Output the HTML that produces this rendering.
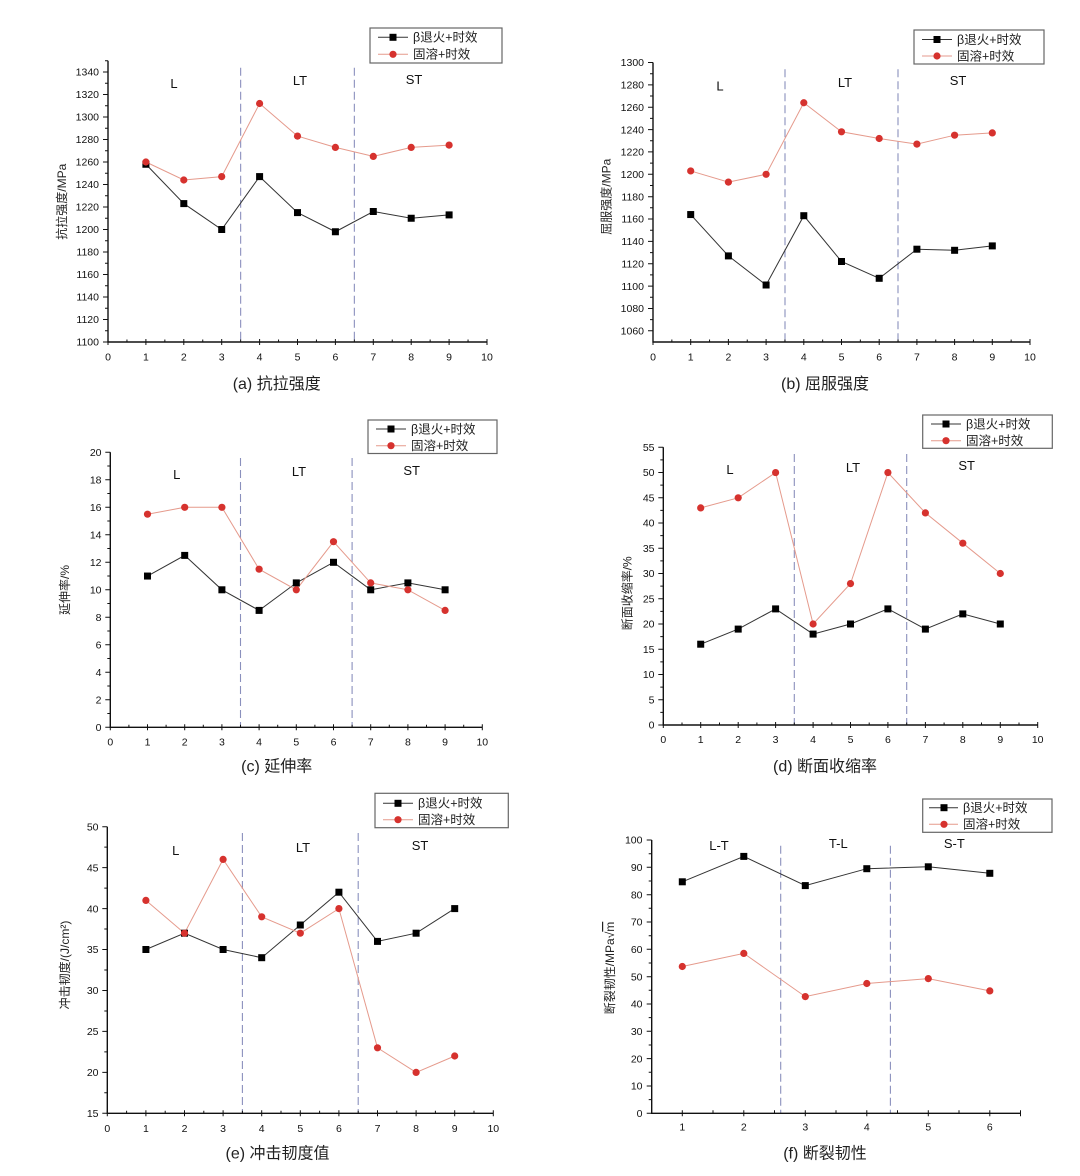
<!DOCTYPE html>
<html><head><meta charset="utf-8"><style>
html,body{margin:0;padding:0;background:#fff}
svg{display:block}
.t{font:10.5px "Liberation Sans",sans-serif;fill:#111}
.yl{text-anchor:end}
.xl{text-anchor:middle}
.cap{font:16px "Liberation Sans","Noto Sans CJK SC",sans-serif;fill:#222;text-anchor:middle}
.ax{font:12px "Liberation Sans","Noto Sans CJK SC",sans-serif;fill:#222;text-anchor:middle}
.rg{font:13px "Liberation Sans",sans-serif;fill:#111;text-anchor:middle}
.lg{font:12.5px "Liberation Sans","Noto Sans CJK SC",sans-serif;fill:#222}
.axis{stroke:#111;stroke-width:1.4;fill:none}
.tk{stroke:#111;stroke-width:1;fill:none}
.dash{stroke:#8a90bd;stroke-width:1.1;stroke-dasharray:8,4;fill:none}
.lb{stroke:#333;stroke-width:1;fill:none}
.lr{stroke:#e59a8c;stroke-width:1;fill:none}
.box{fill:#fff;stroke:#666;stroke-width:1.2}
</style></head><body>
<svg width="1080" height="1176" viewBox="0 0 1080 1176" xmlns="http://www.w3.org/2000/svg">
<defs>
<rect id="sq" x="-3.5" y="-3.5" width="7" height="7" fill="#000"/>
<circle id="ci" r="3.6" fill="#d6322e"/>
</defs>

<!-- ============ (a) ============ -->
<g>
<path class="dash" d="M240.65 67.7V342M354.35 67.7V342"/>
<path class="axis" d="M108 60.75V342H487"/>
<path class="tk" d="M103 342H108M103 319.5H108M103 297H108M103 274.5H108M103 252H108M103 229.5H108M103 207H108M103 184.5H108M103 162H108M103 139.5H108M103 117H108M103 94.5H108M103 72H108
M105 330.75H108M105 308.25H108M105 285.75H108M105 263.25H108M105 240.75H108M105 218.25H108M105 195.75H108M105 173.25H108M105 150.75H108M105 128.25H108M105 105.75H108M105 83.25H108M105 60.75H108
M108 339V345M145.9 339V345M183.8 339V345M221.7 339V345M259.6 339V345M297.5 339V345M335.4 339V345M373.3 339V345M411.2 339V345M449.1 339V345M487 339V345
M126.95 339.5V342M164.85 339.5V342M202.75 339.5V342M240.65 339.5V342M278.55 339.5V342M316.45 339.5V342M354.35 339.5V342M392.25 339.5V342M430.15 339.5V342M468.05 339.5V342"/>
<g class="t yl">
<text x="99" y="345.7">1100</text><text x="99" y="323.2">1120</text><text x="99" y="300.7">1140</text><text x="99" y="278.2">1160</text><text x="99" y="255.7">1180</text><text x="99" y="233.2">1200</text><text x="99" y="210.7">1220</text><text x="99" y="188.2">1240</text><text x="99" y="165.7">1260</text><text x="99" y="143.2">1280</text><text x="99" y="120.7">1300</text><text x="99" y="98.2">1320</text><text x="99" y="75.7">1340</text>
</g>
<g class="t xl">
<text x="108" y="360.5">0</text><text x="145.9" y="360.5">1</text><text x="183.8" y="360.5">2</text><text x="221.7" y="360.5">3</text><text x="259.6" y="360.5">4</text><text x="297.5" y="360.5">5</text><text x="335.4" y="360.5">6</text><text x="373.3" y="360.5">7</text><text x="411.2" y="360.5">8</text><text x="449.1" y="360.5">9</text><text x="487" y="360.5">10</text>
</g>
<text class="ax" transform="translate(66,201.7) rotate(-90)">抗拉强度/MPa</text>
<text class="rg" x="174" y="88">L</text><text class="rg" x="300" y="85">LT</text><text class="rg" x="414" y="84">ST</text>
<polyline class="lb" points="145.9,164.25 183.8,203.6 221.7,229.5 259.6,176.6 297.5,212.6 335.4,231.75 373.3,211.5 411.2,218.25 449.1,214.9"/>
<polyline class="lr" points="145.9,162 183.8,180 221.7,176.6 259.6,103.5 297.5,136.1 335.4,147.4 373.3,156.4 411.2,147.4 449.1,145.1"/>
<use href="#sq" x="145.9" y="164.25"/><use href="#sq" x="183.8" y="203.6"/><use href="#sq" x="221.7" y="229.5"/><use href="#sq" x="259.6" y="176.6"/><use href="#sq" x="297.5" y="212.6"/><use href="#sq" x="335.4" y="231.75"/><use href="#sq" x="373.3" y="211.5"/><use href="#sq" x="411.2" y="218.25"/><use href="#sq" x="449.1" y="214.9"/>
<use href="#ci" x="145.9" y="162"/><use href="#ci" x="183.8" y="180"/><use href="#ci" x="221.7" y="176.6"/><use href="#ci" x="259.6" y="103.5"/><use href="#ci" x="297.5" y="136.1"/><use href="#ci" x="335.4" y="147.4"/><use href="#ci" x="373.3" y="156.4"/><use href="#ci" x="411.2" y="147.4"/><use href="#ci" x="449.1" y="145.1"/>
<rect class="box" x="370" y="28" width="132" height="35"/>
<path class="lb" d="M378 37.3H408"/><use href="#sq" x="393" y="37.3"/><text class="lg" x="413" y="41.6">β退火+时效</text>
<path class="lr" d="M378 54.3H408"/><use href="#ci" x="393" y="54.3"/><text class="lg" x="413" y="58.6">固溶+时效</text>
<text class="cap" x="276.7" y="389">(a) 抗拉强度</text>
</g>

<!-- ============ (b) ============ -->
<g>
<path class="dash" d="M785 69.3V342M898 69.3V342"/>
<path class="axis" d="M653 62.5V342H1030"/>
<path class="tk" d="M648 330.8H653M648 308.5H653M648 286.1H653M648 263.7H653M648 241.4H653M648 219H653M648 196.7H653M648 174.3H653M648 151.9H653M648 129.6H653M648 107.2H653M648 84.9H653M648 62.5H653
M650 319.6H653M650 297.3H653M650 274.9H653M650 252.6H653M650 230.2H653M650 207.8H653M650 185.5H653M650 163.1H653M650 140.8H653M650 118.4H653M650 96H653M650 73.7H653
M653 339V345M690.7 339V345M728.4 339V345M766.1 339V345M803.8 339V345M841.5 339V345M879.2 339V345M916.9 339V345M954.6 339V345M992.3 339V345M1030 339V345
M671.85 339.5V342M709.55 339.5V342M747.25 339.5V342M784.95 339.5V342M822.65 339.5V342M860.35 339.5V342M898.05 339.5V342M935.75 339.5V342M973.45 339.5V342M1011.15 339.5V342"/>
<g class="t yl">
<text x="644" y="334.5">1060</text><text x="644" y="312.2">1080</text><text x="644" y="289.8">1100</text><text x="644" y="267.4">1120</text><text x="644" y="245.1">1140</text><text x="644" y="222.7">1160</text><text x="644" y="200.4">1180</text><text x="644" y="178">1200</text><text x="644" y="155.6">1220</text><text x="644" y="133.3">1240</text><text x="644" y="110.9">1260</text><text x="644" y="88.6">1280</text><text x="644" y="66.2">1300</text>
</g>
<g class="t xl">
<text x="653" y="360.5">0</text><text x="690.7" y="360.5">1</text><text x="728.4" y="360.5">2</text><text x="766.1" y="360.5">3</text><text x="803.8" y="360.5">4</text><text x="841.5" y="360.5">5</text><text x="879.2" y="360.5">6</text><text x="916.9" y="360.5">7</text><text x="954.6" y="360.5">8</text><text x="992.3" y="360.5">9</text><text x="1030" y="360.5">10</text>
</g>
<text class="ax" transform="translate(610.7,196.7) rotate(-90)">屈服强度/MPa</text>
<text class="rg" x="720" y="90.5">L</text><text class="rg" x="845" y="87">LT</text><text class="rg" x="958" y="85">ST</text>
<polyline class="lb" points="690.7,214.55 728.4,255.9 766.1,285 803.8,215.7 841.5,261.5 879.2,278.3 916.9,249.2 954.6,250.3 992.3,245.9"/>
<polyline class="lr" points="690.7,170.95 728.4,182.1 766.1,174.3 803.8,102.75 841.5,131.8 879.2,138.5 916.9,144.1 954.6,135.2 992.3,132.9"/>
<use href="#sq" x="690.7" y="214.55"/><use href="#sq" x="728.4" y="255.9"/><use href="#sq" x="766.1" y="285"/><use href="#sq" x="803.8" y="215.7"/><use href="#sq" x="841.5" y="261.5"/><use href="#sq" x="879.2" y="278.3"/><use href="#sq" x="916.9" y="249.2"/><use href="#sq" x="954.6" y="250.3"/><use href="#sq" x="992.3" y="245.9"/>
<use href="#ci" x="690.7" y="170.95"/><use href="#ci" x="728.4" y="182.1"/><use href="#ci" x="766.1" y="174.3"/><use href="#ci" x="803.8" y="102.75"/><use href="#ci" x="841.5" y="131.8"/><use href="#ci" x="879.2" y="138.5"/><use href="#ci" x="916.9" y="144.1"/><use href="#ci" x="954.6" y="135.2"/><use href="#ci" x="992.3" y="132.9"/>
<rect class="box" x="914" y="30" width="130" height="34"/>
<path class="lb" d="M922 39.5H952"/><use href="#sq" x="937" y="39.5"/><text class="lg" x="957" y="43.8">β退火+时效</text>
<path class="lr" d="M922 56H952"/><use href="#ci" x="937" y="56"/><text class="lg" x="957" y="60.3">固溶+时效</text>
<text class="cap" x="825" y="389">(b) 屈服强度</text>
</g>

<!-- ============ (c) ============ -->
<g>
<path class="dash" d="M240.5 458V727.3M352.1 458V727.3"/>
<path class="axis" d="M110.3 452.3V727.3H482.3"/>
<path class="tk" d="M105.3 727.3H110.3M105.3 699.8H110.3M105.3 672.3H110.3M105.3 644.8H110.3M105.3 617.3H110.3M105.3 589.8H110.3M105.3 562.3H110.3M105.3 534.8H110.3M105.3 507.3H110.3M105.3 479.8H110.3M105.3 452.3H110.3
M107.3 713.55H110.3M107.3 686.05H110.3M107.3 658.55H110.3M107.3 631.05H110.3M107.3 603.55H110.3M107.3 576.05H110.3M107.3 548.55H110.3M107.3 521.05H110.3M107.3 493.55H110.3M107.3 466.05H110.3
M110.3 724.3V730.3M147.5 724.3V730.3M184.7 724.3V730.3M221.9 724.3V730.3M259.1 724.3V730.3M296.3 724.3V730.3M333.5 724.3V730.3M370.7 724.3V730.3M407.9 724.3V730.3M445.1 724.3V730.3M482.3 724.3V730.3
M128.9 724.8V727.3M166.1 724.8V727.3M203.3 724.8V727.3M240.5 724.8V727.3M277.7 724.8V727.3M314.9 724.8V727.3M352.1 724.8V727.3M389.3 724.8V727.3M426.5 724.8V727.3M463.7 724.8V727.3"/>
<g class="t yl">
<text x="101.5" y="731">0</text><text x="101.5" y="703.5">2</text><text x="101.5" y="676">4</text><text x="101.5" y="648.5">6</text><text x="101.5" y="621">8</text><text x="101.5" y="593.5">10</text><text x="101.5" y="566">12</text><text x="101.5" y="538.5">14</text><text x="101.5" y="511">16</text><text x="101.5" y="483.5">18</text><text x="101.5" y="456">20</text>
</g>
<g class="t xl">
<text x="110.3" y="745.5">0</text><text x="147.5" y="745.5">1</text><text x="184.7" y="745.5">2</text><text x="221.9" y="745.5">3</text><text x="259.1" y="745.5">4</text><text x="296.3" y="745.5">5</text><text x="333.5" y="745.5">6</text><text x="370.7" y="745.5">7</text><text x="407.9" y="745.5">8</text><text x="445.1" y="745.5">9</text><text x="482.3" y="745.5">10</text>
</g>
<text class="ax" transform="translate(69,590) rotate(-90)">延伸率/%</text>
<text class="rg" x="176.7" y="479">L</text><text class="rg" x="299" y="476">LT</text><text class="rg" x="411.7" y="475">ST</text>
<polyline class="lb" points="147.5,576.05 184.7,555.4 221.9,589.8 259.1,610.4 296.3,582.9 333.5,562.3 370.7,589.8 407.9,582.9 445.1,589.8"/>
<polyline class="lr" points="147.5,514.2 184.7,507.3 221.9,507.3 259.1,569.2 296.3,589.8 333.5,541.7 370.7,582.9 407.9,589.8 445.1,610.4"/>
<use href="#sq" x="147.5" y="576.05"/><use href="#sq" x="184.7" y="555.4"/><use href="#sq" x="221.9" y="589.8"/><use href="#sq" x="259.1" y="610.4"/><use href="#sq" x="296.3" y="582.9"/><use href="#sq" x="333.5" y="562.3"/><use href="#sq" x="370.7" y="589.8"/><use href="#sq" x="407.9" y="582.9"/><use href="#sq" x="445.1" y="589.8"/>
<use href="#ci" x="147.5" y="514.2"/><use href="#ci" x="184.7" y="507.3"/><use href="#ci" x="221.9" y="507.3"/><use href="#ci" x="259.1" y="569.2"/><use href="#ci" x="296.3" y="589.8"/><use href="#ci" x="333.5" y="541.7"/><use href="#ci" x="370.7" y="582.9"/><use href="#ci" x="407.9" y="589.8"/><use href="#ci" x="445.1" y="610.4"/>
<rect class="box" x="368" y="420" width="129" height="33.5"/>
<path class="lb" d="M376 429H406"/><use href="#sq" x="391" y="429"/><text class="lg" x="411" y="433.3">β退火+时效</text>
<path class="lr" d="M376 445.7H406"/><use href="#ci" x="391" y="445.7"/><text class="lg" x="411" y="450">固溶+时效</text>
<text class="cap" x="276.7" y="771.5">(c) 延伸率</text>
</g>

<!-- ============ (d) ============ -->
<g>
<path class="dash" d="M794.3 454V725M906.7 454V725"/>
<path class="axis" d="M663.3 447.3V725H1037.7"/>
<path class="tk" d="M658.3 725H663.3M658.3 699.8H663.3M658.3 674.5H663.3M658.3 649.3H663.3M658.3 624H663.3M658.3 598.8H663.3M658.3 573.5H663.3M658.3 548.3H663.3M658.3 523H663.3M658.3 497.8H663.3M658.3 472.5H663.3M658.3 447.3H663.3
M660.3 712.4H663.3M660.3 687.1H663.3M660.3 661.9H663.3M660.3 636.6H663.3M660.3 611.4H663.3M660.3 586.1H663.3M660.3 560.9H663.3M660.3 535.6H663.3M660.3 510.4H663.3M660.3 485.1H663.3M660.3 459.9H663.3
M663.3 722V728M700.7 722V728M738.2 722V728M775.6 722V728M813.1 722V728M850.5 722V728M887.9 722V728M925.4 722V728M962.8 722V728M1000.3 722V728M1037.7 722V728
M682 722.5V725M719.5 722.5V725M756.9 722.5V725M794.3 722.5V725M831.8 722.5V725M869.2 722.5V725M906.7 722.5V725M944.1 722.5V725M981.5 722.5V725M1019 722.5V725"/>
<g class="t yl">
<text x="654.5" y="728.7">0</text><text x="654.5" y="703.5">5</text><text x="654.5" y="678.2">10</text><text x="654.5" y="653">15</text><text x="654.5" y="627.7">20</text><text x="654.5" y="602.5">25</text><text x="654.5" y="577.2">30</text><text x="654.5" y="552">35</text><text x="654.5" y="526.7">40</text><text x="654.5" y="501.5">45</text><text x="654.5" y="476.2">50</text><text x="654.5" y="451">55</text>
</g>
<g class="t xl">
<text x="663.3" y="743">0</text><text x="700.7" y="743">1</text><text x="738.2" y="743">2</text><text x="775.6" y="743">3</text><text x="813.1" y="743">4</text><text x="850.5" y="743">5</text><text x="887.9" y="743">6</text><text x="925.4" y="743">7</text><text x="962.8" y="743">8</text><text x="1000.3" y="743">9</text><text x="1037.7" y="743">10</text>
</g>
<text class="ax" transform="translate(631.3,593.3) rotate(-90)">断面收缩率/%</text>
<text class="rg" x="730" y="474">L</text><text class="rg" x="853" y="472">LT</text><text class="rg" x="966.7" y="470">ST</text>
<polyline class="lb" points="700.7,644.2 738.2,629.1 775.6,608.9 813.1,634.1 850.5,624 887.9,608.9 925.4,629.1 962.8,613.9 1000.3,624"/>
<polyline class="lr" points="700.7,507.9 738.2,497.8 775.6,472.55 813.1,624 850.5,583.6 887.9,472.55 925.4,512.9 962.8,543.2 1000.3,573.5"/>
<use href="#sq" x="700.7" y="644.2"/><use href="#sq" x="738.2" y="629.1"/><use href="#sq" x="775.6" y="608.9"/><use href="#sq" x="813.1" y="634.1"/><use href="#sq" x="850.5" y="624"/><use href="#sq" x="887.9" y="608.9"/><use href="#sq" x="925.4" y="629.1"/><use href="#sq" x="962.8" y="613.9"/><use href="#sq" x="1000.3" y="624"/>
<use href="#ci" x="700.7" y="507.9"/><use href="#ci" x="738.2" y="497.8"/><use href="#ci" x="775.6" y="472.55"/><use href="#ci" x="813.1" y="624"/><use href="#ci" x="850.5" y="583.6"/><use href="#ci" x="887.9" y="472.55"/><use href="#ci" x="925.4" y="512.9"/><use href="#ci" x="962.8" y="543.2"/><use href="#ci" x="1000.3" y="573.5"/>
<rect class="box" x="922.7" y="415" width="129.6" height="33.3"/>
<path class="lb" d="M931 424H961"/><use href="#sq" x="946" y="424"/><text class="lg" x="966" y="428.3">β退火+时效</text>
<path class="lr" d="M931 440.7H961"/><use href="#ci" x="946" y="440.7"/><text class="lg" x="966" y="445">固溶+时效</text>
<text class="cap" x="825" y="771.5">(d) 断面收缩率</text>
</g>

<!-- ============ (e) ============ -->
<g>
<path class="dash" d="M242.4 833V1113.3M358.2 833V1113.3"/>
<path class="axis" d="M107.3 826.7V1113.3H493.3"/>
<path class="tk" d="M102.3 1113.3H107.3M102.3 1072.4H107.3M102.3 1031.4H107.3M102.3 990.5H107.3M102.3 949.5H107.3M102.3 908.6H107.3M102.3 867.6H107.3M102.3 826.7H107.3
M104.3 1092.8H107.3M104.3 1051.9H107.3M104.3 1011H107.3M104.3 970H107.3M104.3 929H107.3M104.3 888.1H107.3M104.3 847.1H107.3
M107.3 1110.3V1116.3M145.9 1110.3V1116.3M184.5 1110.3V1116.3M223.1 1110.3V1116.3M261.7 1110.3V1116.3M300.3 1110.3V1116.3M338.9 1110.3V1116.3M377.5 1110.3V1116.3M416.1 1110.3V1116.3M454.7 1110.3V1116.3M493.3 1110.3V1116.3
M126.6 1110.8V1113.3M165.2 1110.8V1113.3M203.8 1110.8V1113.3M242.4 1110.8V1113.3M281 1110.8V1113.3M319.6 1110.8V1113.3M358.2 1110.8V1113.3M396.8 1110.8V1113.3M435.4 1110.8V1113.3M474 1110.8V1113.3"/>
<g class="t yl">
<text x="98.5" y="1117">15</text><text x="98.5" y="1076.1">20</text><text x="98.5" y="1035.1">25</text><text x="98.5" y="994.2">30</text><text x="98.5" y="953.2">35</text><text x="98.5" y="912.3">40</text><text x="98.5" y="871.3">45</text><text x="98.5" y="830.4">50</text>
</g>
<g class="t xl">
<text x="107.3" y="1132">0</text><text x="145.9" y="1132">1</text><text x="184.5" y="1132">2</text><text x="223.1" y="1132">3</text><text x="261.7" y="1132">4</text><text x="300.3" y="1132">5</text><text x="338.9" y="1132">6</text><text x="377.5" y="1132">7</text><text x="416.1" y="1132">8</text><text x="454.7" y="1132">9</text><text x="493.3" y="1132">10</text>
</g>
<text class="ax" transform="translate(69,965) rotate(-90)">冲击韧度/(J/cm²)</text>
<text class="rg" x="175.7" y="855">L</text><text class="rg" x="303" y="852">LT</text><text class="rg" x="420" y="850">ST</text>
<polyline class="lb" points="145.9,949.5 184.5,933.2 223.1,949.5 261.7,957.7 300.3,925 338.9,892.2 377.5,941.4 416.1,933.2 454.7,908.6"/>
<polyline class="lr" points="145.9,900.4 184.5,933.2 223.1,859.4 261.7,916.8 300.3,933.2 338.9,908.6 377.5,1047.8 416.1,1072.4 454.7,1056"/>
<use href="#sq" x="145.9" y="949.5"/><use href="#sq" x="184.5" y="933.2"/><use href="#sq" x="223.1" y="949.5"/><use href="#sq" x="261.7" y="957.7"/><use href="#sq" x="300.3" y="925"/><use href="#sq" x="338.9" y="892.2"/><use href="#sq" x="377.5" y="941.4"/><use href="#sq" x="416.1" y="933.2"/><use href="#sq" x="454.7" y="908.6"/>
<use href="#ci" x="145.9" y="900.4"/><use href="#ci" x="184.5" y="933.2"/><use href="#ci" x="223.1" y="859.4"/><use href="#ci" x="261.7" y="916.8"/><use href="#ci" x="300.3" y="933.2"/><use href="#ci" x="338.9" y="908.6"/><use href="#ci" x="377.5" y="1047.8"/><use href="#ci" x="416.1" y="1072.4"/><use href="#ci" x="454.7" y="1056"/>
<rect class="box" x="375" y="793.3" width="133.3" height="34.4"/>
<path class="lb" d="M383 803.3H413"/><use href="#sq" x="398" y="803.3"/><text class="lg" x="418" y="807.6">β退火+时效</text>
<path class="lr" d="M383 819.7H413"/><use href="#ci" x="398" y="819.7"/><text class="lg" x="418" y="824">固溶+时效</text>
<text class="cap" x="277.5" y="1158.5">(e) 冲击韧度值</text>
</g>

<!-- ============ (f) ============ -->
<g>
<path class="dash" d="M780.7 845.7V1113.3M890.4 845.7V1113.3"/>
<path class="axis" d="M651.7 840V1113.3H1020.5"/>
<path class="tk" d="M646.7 1113.3H651.7M646.7 1086H651.7M646.7 1058.6H651.7M646.7 1031.3H651.7M646.7 1004H651.7M646.7 976.7H651.7M646.7 949.3H651.7M646.7 922H651.7M646.7 894.7H651.7M646.7 867.3H651.7M646.7 840H651.7
M648.7 1099.6H651.7M648.7 1072.3H651.7M648.7 1045H651.7M648.7 1017.6H651.7M648.7 990.3H651.7M648.7 963H651.7M648.7 935.7H651.7M648.7 908.3H651.7M648.7 881H651.7M648.7 853.7H651.7
M682.3 1110.3V1116.3M743.8 1110.3V1116.3M805.3 1110.3V1116.3M866.8 1110.3V1116.3M928.3 1110.3V1116.3M989.8 1110.3V1116.3
M713 1110.3V1113.3M774.5 1110.3V1113.3M836 1110.3V1113.3M897.5 1110.3V1113.3M959 1110.3V1113.3M1020.5 1110.3V1116.3"/>
<g class="t yl">
<text x="642.5" y="1117">0</text><text x="642.5" y="1089.7">10</text><text x="642.5" y="1062.3">20</text><text x="642.5" y="1035">30</text><text x="642.5" y="1007.7">40</text><text x="642.5" y="980.4">50</text><text x="642.5" y="953">60</text><text x="642.5" y="925.7">70</text><text x="642.5" y="898.4">80</text><text x="642.5" y="871">90</text><text x="642.5" y="843.7">100</text>
</g>
<g class="t xl">
<text x="682.3" y="1130.5">1</text><text x="743.8" y="1130.5">2</text><text x="805.3" y="1130.5">3</text><text x="866.8" y="1130.5">4</text><text x="928.3" y="1130.5">5</text><text x="989.8" y="1130.5">6</text>
</g>
<text class="ax" transform="translate(614,968) rotate(-90)">断裂韧性/MPa√<tspan text-decoration="overline">m</tspan></text>
<text class="rg" x="719" y="850">L-T</text><text class="rg" x="838.3" y="848">T-L</text><text class="rg" x="954.3" y="848">S-T</text>
<polyline class="lb" points="682.3,881.8 743.8,856.4 805.3,885.6 866.8,868.7 928.3,866.8 989.8,873.3"/>
<polyline class="lr" points="682.3,966.5 743.8,953.4 805.3,996.6 866.8,983.5 928.3,978.6 989.8,990.9"/>
<use href="#sq" x="682.3" y="881.8"/><use href="#sq" x="743.8" y="856.4"/><use href="#sq" x="805.3" y="885.6"/><use href="#sq" x="866.8" y="868.7"/><use href="#sq" x="928.3" y="866.8"/><use href="#sq" x="989.8" y="873.3"/>
<use href="#ci" x="682.3" y="966.5"/><use href="#ci" x="743.8" y="953.4"/><use href="#ci" x="805.3" y="996.6"/><use href="#ci" x="866.8" y="983.5"/><use href="#ci" x="928.3" y="978.6"/><use href="#ci" x="989.8" y="990.9"/>
<rect class="box" x="922.7" y="799" width="129.3" height="33.3"/>
<path class="lb" d="M929 807.7H958"/><use href="#sq" x="944" y="807.7"/><text class="lg" x="963" y="812">β退火+时效</text>
<path class="lr" d="M929 824.3H958"/><use href="#ci" x="944" y="824.3"/><text class="lg" x="963" y="828.6">固溶+时效</text>
<text class="cap" x="825" y="1158.5">(f) 断裂韧性</text>
</g>
</svg>
</body></html>
